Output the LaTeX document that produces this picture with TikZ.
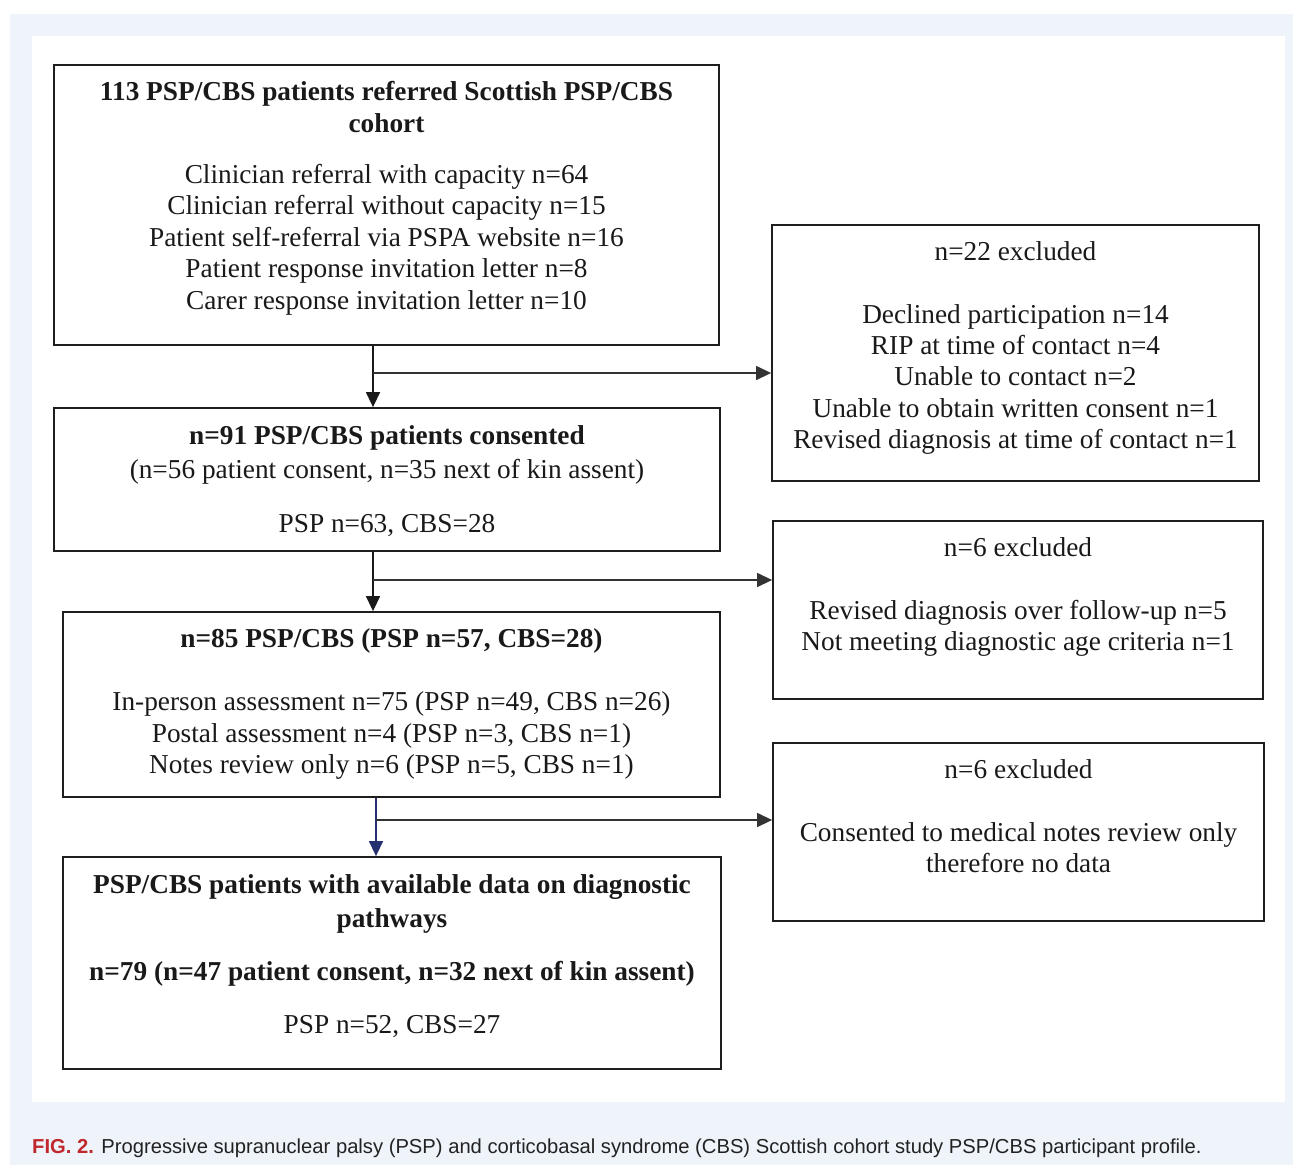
\documentclass[tikz,border=0pt]{standalone}
\usepackage{fontspec}
\setmainfont{Liberation Serif}
\setsansfont{Liberation Sans}
\usetikzlibrary{arrows.meta}
\definecolor{panel}{HTML}{EFF4FB}
\definecolor{capred}{HTML}{C0282D}
\definecolor{captext}{HTML}{222222}
\definecolor{navy}{HTML}{27306E}
\definecolor{boxline}{HTML}{1E1E1E}
\tikzset{
  flowbox/.style={draw=boxline, line width=1.8pt, fill=white, inner sep=0pt, rectangle},
  txt/.style={anchor=base, inner sep=0pt, font=\fontsize{27.3}{31.5}\selectfont, text=black!90},
  btxt/.style={txt, font=\fontsize{27.3}{31.5}\selectfont\bfseries},
  arr/.style={draw=black!90, line width=1.4pt, -{Triangle[length=15pt,width=14pt]}},
  harr/.style={draw=black!80, line width=1.3pt, -{Triangle[length=15pt,width=14pt]}},
}
\begin{document}
\begin{tikzpicture}[x=1pt,y=-1pt]
\useasboundingbox (0,0) rectangle (1293,1165);
\fill[panel] (10,14) rectangle (1293,1165);
\fill[white] (32,36) rectangle (1285,1102);

% boxes
\node[flowbox, minimum width=665pt, minimum height=280pt] (b1) at (386.5,205) {};
\node[flowbox, minimum width=487pt, minimum height=256pt] (b2) at (1015.5,353) {};
\node[flowbox, minimum width=666pt, minimum height=143pt] (b3) at (387,479.5) {};
\node[flowbox, minimum width=490pt, minimum height=178pt] (b4) at (1018,610) {};
\node[flowbox, minimum width=657pt, minimum height=185pt] (b5) at (391.5,704.5) {};
\node[flowbox, minimum width=491pt, minimum height=178pt] (b6) at (1018.5,832) {};
\node[flowbox, minimum width=658pt, minimum height=212pt] (b7) at (392,963) {};

% box 1 text
\node[btxt] (t1a) at (386.5,100) {113 PSP/CBS patients referred Scottish PSP/CBS};
\node[btxt] (t1b) at (386.5,132) {cohort};
\node[txt] (t1c) at (386.5,183) {Clinician referral with capacity n=64};
\node[txt] (t1d) at (386.5,214.5) {Clinician referral without capacity n=15};
\node[txt] (t1e) at (386.5,246) {Patient self-referral via PSPA website n=16};
\node[txt] (t1f) at (386.5,277.5) {Patient response invitation letter n=8};
\node[txt] (t1g) at (386.5,309) {Carer response invitation letter n=10};

% box 2 text
\node[txt] (t2a) at (1015.5,260) {n=22 excluded};
\node[txt] (t2b) at (1015.5,323) {Declined participation n=14};
\node[txt] (t2c) at (1015.5,354) {RIP at time of contact n=4};
\node[txt] (t2d) at (1015.5,385) {Unable to contact n=2};
\node[txt] (t2e) at (1015.5,417) {Unable to obtain written consent n=1};
\node[txt] (t2f) at (1015.5,448) {Revised diagnosis at time of contact n=1};

% box 3 text
\node[btxt] (t3a) at (387,444) {n=91 PSP/CBS patients consented};
\node[txt] (t3b) at (387,478) {(n=56 patient consent, n=35 next of kin assent)};
\node[txt] (t3c) at (387,532) {PSP n=63, CBS=28};

% box 4 text
\node[txt] (t4a) at (1018,556) {n=6 excluded};
\node[txt] (t4b) at (1018,619) {Revised diagnosis over follow-up n=5};
\node[txt] (t4c) at (1018,650) {Not meeting diagnostic age criteria n=1};

% box 5 text
\node[btxt] (t5a) at (391.5,647) {n=85 PSP/CBS (PSP n=57, CBS=28)};
\node[txt] (t5b) at (391.5,710) {In-person assessment n=75 (PSP n=49, CBS n=26)};
\node[txt] (t5c) at (391.5,742) {Postal assessment n=4 (PSP n=3, CBS n=1)};
\node[txt] (t5d) at (391.5,773) {Notes review only n=6 (PSP n=5, CBS n=1)};

% box 6 text
\node[txt] (t6a) at (1018.5,778) {n=6 excluded};
\node[txt] (t6b) at (1018.5,841) {Consented to medical notes review only};
\node[txt] (t6c) at (1018.5,872) {therefore no data};

% box 7 text
\node[btxt] (t7a) at (392,893) {PSP/CBS patients with available data on diagnostic};
\node[btxt] (t7b) at (392,927) {pathways};
\node[btxt] (t7c) at (392,980) {n=79 (n=47 patient consent, n=32 next of kin assent)};
\node[txt] (t7d) at (392,1033) {PSP n=52, CBS=27};

% connectors
\coordinate (v1) at (373,373);
\coordinate (v2) at (373,580);
\coordinate (v3) at (376,820);
\draw[arr] (b1.south -| v1) -- (b3.north -| v1);
\draw[harr] (v1) -- (b2.west |- v1);
\draw[arr] (b3.south -| v2) -- (b5.north -| v2);
\draw[harr] (v2) -- (b4.west |- v2);
\draw[arr, draw=navy, -{Triangle[length=15pt,width=14pt,fill=navy]}] (b5.south -| v3) -- (b7.north -| v3);
\draw[harr] (v3) -- (b6.west |- v3);

% caption
\node[anchor=base west, inner sep=0pt, font=\sffamily\fontsize{20.2}{24}\selectfont] (cap) at (32,1153)
  {\textcolor{capred}{\bfseries FIG. 2.} \textcolor{captext}{Progressive supranuclear palsy (PSP) and corticobasal syndrome (CBS) Scottish cohort study PSP/CBS participant profile.}};
\end{tikzpicture}
\end{document}
